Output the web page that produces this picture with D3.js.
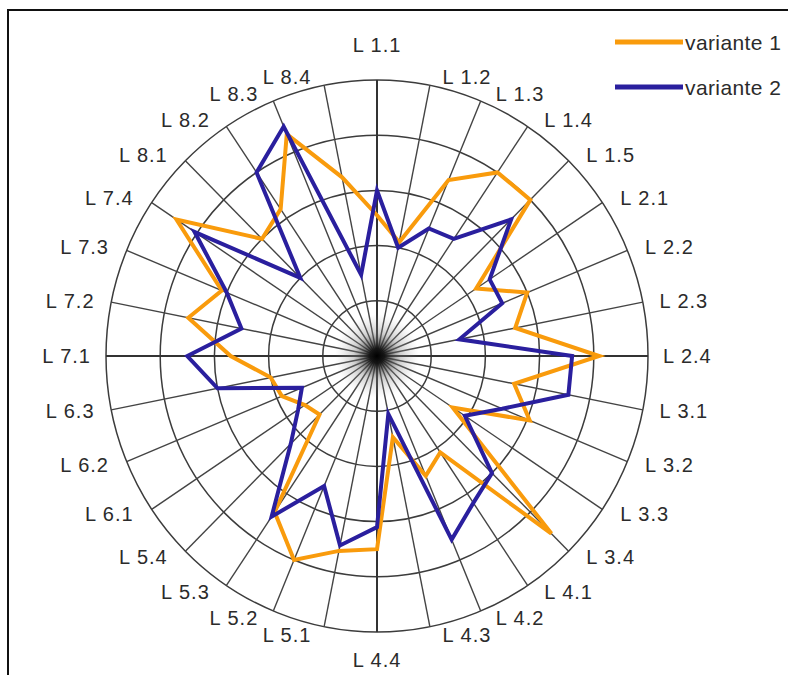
<!DOCTYPE html>
<html>
<head>
<meta charset="utf-8">
<script src="https://cdn.jsdelivr.net/npm/d3@7"></script>
<style>
  body { margin: 0; background: #fff; }
  svg { display: block; }
</style>
</head>
<body>
<div id="chart"></div>
<script>
// axis labels, clockwise from the top
const axisLabels = [
  'L 1.1', 'L 1.2', 'L 1.3', 'L 1.4', 'L 1.5',
  'L 2.1', 'L 2.2', 'L 2.3', 'L 2.4',
  'L 3.1', 'L 3.2', 'L 3.3', 'L 3.4',
  'L 4.1', 'L 4.2', 'L 4.3', 'L 4.4',
  'L 5.1', 'L 5.2', 'L 5.3', 'L 5.4',
  'L 6.1', 'L 6.2', 'L 6.3',
  'L 7.1', 'L 7.2', 'L 7.3', 'L 7.4',
  'L 8.1', 'L 8.2', 'L 8.3', 'L 8.4'
];

// values (ring units, 0..5)
const variante1 = [
  2.55, 2.1, 3.45, 4.0, 4.0,
  2.2, 3.0, 2.6, 4.1,
  2.58, 3.05, 1.68, 4.55,
  2.1, 2.35, 1.5, 3.5,
  3.6, 4.0, 3.4, 1.5,
  1.6, 1.9, 2.0,
  2.7, 3.55, 3.1, 4.45,
  3.0, 3.2, 4.35, 3.3
];
const variante2 = [
  3.0, 2.0, 2.5, 2.55, 3.5,
  2.5, 2.5, 1.55, 3.6,
  3.6, 2.5, 1.95, 3.0,
  3.2, 3.6, 1.07, 3.1,
  3.5, 2.55, 3.5, 2.25,
  1.75, 1.5, 3.0,
  3.5, 2.55, 3.0, 4.05,
  2.0, 4.0, 4.5, 1.5
];
const ringValues = [1, 2, 3, 4, 5];
const seriesNames = ['variante 1', 'variante 2'];
const seriesColors = ['#F99B0C', '#2A1F9E'];

const width = 788, height = 675;
const cx = 377, cy = 356;

const svg = d3.select('#chart')
  .append('svg')
  .attr('width', width)
  .attr('height', height);

// frame (cut off on the right and bottom, like the picture)
svg.append('rect')
  .attr('x', 8).attr('y', 10)
  .attr('width', 820).attr('height', 720)
  .attr('fill', '#fff')
  .attr('stroke', '#111')
  .attr('stroke-width', 2);

// scales: the picture is a little squeezed horizontally
const rx = d3.scaleLinear().domain([0, 5]).range([0, 271]);
const ry = d3.scaleLinear().domain([0, 5]).range([0, 276]);
const angle = d3.scaleLinear().domain([0, axisLabels.length]).range([0, 2 * Math.PI]);

const px = (v, i) => cx + rx(v) * Math.sin(angle(i));
const py = (v, i) => cy - ry(v) * Math.cos(angle(i));

const g = svg.append('g');

// soft dark haze in the middle where the spokes meet
const defs = svg.append('defs');
const haze = defs.append('radialGradient').attr('id', 'haze');
haze.append('stop').attr('offset', '0%').attr('stop-color', '#000').attr('stop-opacity', 1);
haze.append('stop').attr('offset', '18%').attr('stop-color', '#111').attr('stop-opacity', 0.9);
haze.append('stop').attr('offset', '55%').attr('stop-color', '#777').attr('stop-opacity', 0.35);
haze.append('stop').attr('offset', '100%').attr('stop-color', '#aaa').attr('stop-opacity', 0);

// rings
g.selectAll('.ring')
  .data(ringValues)
  .enter()
  .append('ellipse')
  .attr('class', 'ring')
  .attr('cx', cx).attr('cy', cy)
  .attr('rx', d => rx(d))
  .attr('ry', d => ry(d))
  .attr('fill', 'none')
  .attr('stroke', '#3c3c3c')
  .attr('stroke-width', 1.5);

// spokes
const maxV = d3.max(ringValues);
g.selectAll('.spoke')
  .data(axisLabels)
  .enter()
  .append('line')
  .attr('class', 'spoke')
  .attr('x1', cx).attr('y1', cy)
  .attr('x2', (d, i) => px(maxV, i))
  .attr('y2', (d, i) => py(maxV, i))
  .attr('stroke', (d, i) => i % 8 === 0 ? '#333' : '#444')
  .attr('stroke-width', (d, i) => i % 8 === 0 ? 2 : 1.4);

g.append('ellipse')
  .attr('cx', cx).attr('cy', cy)
  .attr('rx', 42).attr('ry', 42)
  .attr('fill', 'url(#haze)');

// axis labels
g.selectAll('.axis-label')
  .data(axisLabels)
  .enter()
  .append('text')
  .attr('class', 'axis-label')
  .attr('x', (d, i) => {
    const s = Math.sin(angle(i)), c = Math.cos(angle(i));
    if (Math.abs(s) < 0.1) return cx;
    return cx + 286 * s + Math.sign(s) * 10 * Math.abs(c);
  })
  .attr('y', (d, i) => {
    const s = Math.sin(angle(i)), c = Math.cos(angle(i));
    if (Math.abs(s) < 0.1) return c > 0 ? cy - 311 : cy + 304;
    return cy - 284 * c;
  })
  .attr('text-anchor', (d, i) => {
    const s = Math.sin(angle(i));
    if (Math.abs(s) < 0.1) return 'middle';
    return s > 0 ? 'start' : 'end';
  })
  .attr('dominant-baseline', 'central')
  .style('font-family', '"Liberation Sans", Arial, sans-serif')
  .style('font-size', '20px')
  .style('letter-spacing', '1px')
  .style('fill', '#2b2b2b')
  .text(d => d);

// series lines
const radarLine = d3.line()
  .x((d, i) => px(d, i))
  .y((d, i) => py(d, i))
  .curve(d3.curveLinearClosed);

[variante1, variante2].forEach((values, k) => {
  g.append('path')
    .datum(values)
    .attr('fill', 'none')
    .attr('stroke', seriesColors[k])
    .attr('stroke-width', 4)
    .attr('stroke-linejoin', 'miter')
    .attr('d', radarLine);
});

// legend
const legend = svg.append('g').attr('class', 'legend');
const legendY = [42, 87];
seriesNames.forEach((name, k) => {
  legend.append('line')
    .attr('x1', 615).attr('x2', 683)
    .attr('y1', legendY[k]).attr('y2', legendY[k])
    .attr('stroke', seriesColors[k])
    .attr('stroke-width', 5);
  legend.append('text')
    .attr('x', 685)
    .attr('y', legendY[k])
    .attr('dominant-baseline', 'central')
    .style('font-family', '"Liberation Sans", Arial, sans-serif')
    .style('font-size', '21px')
    .style('letter-spacing', '0.4px')
    .style('fill', '#2b2b2b')
    .text(name);
});
</script>
</body>
</html>
